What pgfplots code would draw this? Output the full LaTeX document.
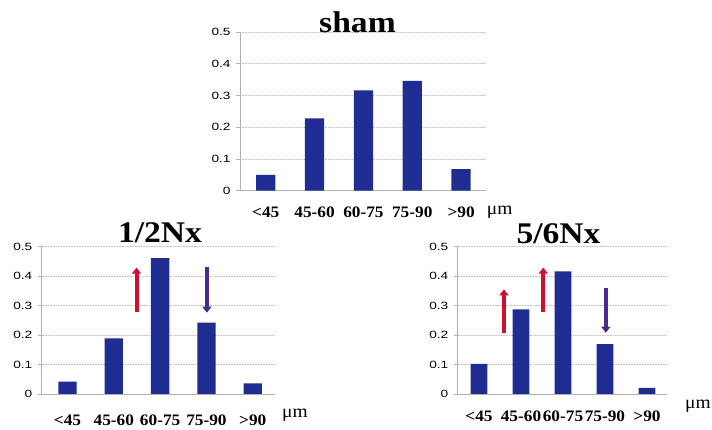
\documentclass[border=0pt]{standalone}
\usepackage{fontspec}
\setmainfont{Liberation Serif}
\newfontfamily\arialf{Liberation Sans}
\usepackage{pgfplots}
\pgfplotsset{compat=1.18}
\usetikzlibrary{arrows.meta}
\definecolor{barblue}{HTML}{1F2C92}
\definecolor{arrred}{HTML}{D0102A}
\definecolor{arrpurple}{HTML}{4B2A8C}
\pgfplotsset{
  panel/.style={
    scale only axis,
    anchor=south west,
    ymin=0, ymax=0.5,
    ytick={0,0.1,0.2,0.3,0.4,0.5},
    yticklabels={0,0.1,0.2,0.3,0.4,0.5},
    xtick={0,1,2,3,4},
    xticklabels={<45,45-60,60-75,75-90,>90},
    axis x line=bottom, axis y line=left,
    axis line style={gray!60, line width=0.6pt, -},
    ymajorgrids,
    major grid style={gray!50, line width=0.6pt, densely dotted},
    tick align=outside,
    major tick length=4pt,
    xtick style={draw=none},
    ytick style={gray!60, line width=0.6pt},
    yticklabel style={font=\arialf\fontsize{10.5}{12}\selectfont, xscale=1.3, anchor=east, inner sep=0pt, xshift=-4pt},
    xticklabel style={font=\bfseries\fontsize{16}{18}\selectfont, xscale=1.08, anchor=base, inner sep=0pt},
    /pgf/number format/assume math mode=true,
    clip=false,
  },
  bars/.style={ybar, bar shift=0pt, fill=barblue, draw=none},
  up/.style={arrred, line width=4pt, -{Triangle[width=9pt,length=6pt]}},
  down/.style={arrpurple, line width=4pt, -{Triangle[width=9pt,length=6pt]}},
}
\begin{document}
\begin{tikzpicture}[x=1pt,y=1pt]
\useasboundingbox (0,0) rectangle (712,430);
% sham
\begin{axis}[panel, at={(240pt,239.3pt)}, width=246pt, height=158.7pt,
  xmin=-0.527, xmax=4.51, xticklabel style={yshift=-23pt}]
\addplot[bars, bar width=19.3pt] coordinates {(0,0.050) (1,0.228) (2,0.316) (3,0.346) (4,0.068)};
\end{axis}
\node[font=\bfseries\fontsize{30}{32}\selectfont, xscale=1.12, anchor=base] at (357.5,397) {sham};
\node[font=\fontsize{18}{20}\selectfont, xscale=1.08, anchor=base] at (499.6,215) {μm};
% 1/2Nx
\begin{axis}[panel, at={(41.7pt,36pt)}, width=233.3pt, height=147.3pt,
  xmin=-0.557, xmax=4.48, xticklabel style={yshift=-28pt}]
\addplot[bars, bar width=18.3pt] coordinates {(0,0.042) (1,0.189) (2,0.461) (3,0.242) (4,0.036)};
\addplot[up] coordinates {(1.49,0.278) (1.49,0.429)};
\addplot[down] coordinates {(3.01,0.430) (3.01,0.276)};
\end{axis}
\node[font=\bfseries\fontsize{30}{32}\selectfont, xscale=1.12, anchor=base] at (160,187) {1/2Nx};
\node[font=\fontsize{18}{20}\selectfont, xscale=1.08, anchor=base] at (295,12) {μm};
% 5/6Nx
\begin{axis}[panel, at={(457.7pt,36pt)}, width=209pt, height=147.3pt,
  xmin=-0.507, xmax=4.47, xticklabel style={yshift=-24pt}]
\addplot[bars, bar width=16.7pt] coordinates {(0,0.102) (1,0.287) (2,0.416) (3,0.169) (4,0.021)};
\addplot[up] coordinates {(0.595,0.208) (0.595,0.355)};
\addplot[up] coordinates {(1.53,0.279) (1.53,0.429)};
\addplot[down] coordinates {(3.02,0.359) (3.02,0.208)};
\end{axis}
\node[font=\bfseries\fontsize{30}{32}\selectfont, xscale=1.12, anchor=base] at (558.5,186) {5/6Nx};
\node[font=\fontsize{18}{20}\selectfont, xscale=1.08, anchor=base] at (698,21) {μm};
\end{tikzpicture}
\end{document}
